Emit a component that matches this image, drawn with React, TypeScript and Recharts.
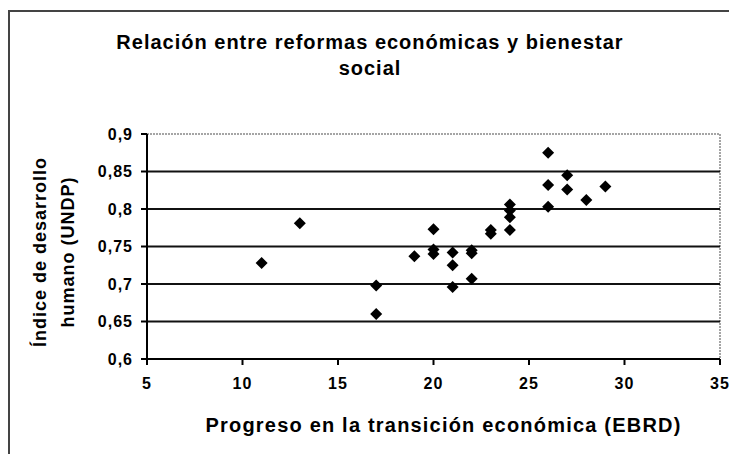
import { ScatterChart, Scatter, XAxis, YAxis, ReferenceLine, ReferenceArea } from 'recharts'

// transition progress (EBRD) vs human development index (UNDP)
const ebrdScores = [11, 13, 17, 17, 19, 20, 20, 20, 21, 21, 21, 22, 22, 22, 23, 23, 24, 24, 24, 24, 26, 26, 26, 27, 27, 28, 29]
const hdiValues = [0.728, 0.781, 0.698, 0.66, 0.737, 0.773, 0.746, 0.74, 0.742, 0.725, 0.696, 0.745, 0.741, 0.707, 0.772, 0.767, 0.806, 0.798, 0.789, 0.772, 0.875, 0.832, 0.803, 0.845, 0.826, 0.812, 0.83]

const xTicks = [5, 10, 15, 20, 25, 30, 35]
const yTicks = [0.6, 0.65, 0.7, 0.75, 0.8, 0.85, 0.9]

const title = ['Relación entre reformas económicas y bienestar', 'social']
const xTitle = 'Progreso en la transición económica (EBRD)'
const yTitle = ['Índice de desarrollo', 'humano (UNDP)']

const points = ebrdScores.map((x, i) => ({ x, y: hdiValues[i] }))
const gridValues = yTicks.slice(1, -1)

const FONT = '"Liberation Sans", Arial, sans-serif'
const tickStyle = { fontSize: 16, fontWeight: 700, fill: '#000', fontFamily: FONT, letterSpacing: 1 }

function Diamond(props: { cx?: number; cy?: number }) {
  const { cx = 0, cy = 0 } = props
  const r = 6
  return (
    <polygon
      points={`${cx},${cy - r} ${cx + r},${cy} ${cx},${cy + r} ${cx - r},${cy}`}
      fill="#000"
    />
  )
}

export default function App() {
  return (
    <div
      style={{
        position: 'relative',
        top: 2,
        width: 729,
        height: 446,
        boxSizing: 'border-box',
        border: '2px solid #444',
        background: '#fff',
        fontFamily: FONT,
        color: '#000',
      }}
    >
      <div
        style={{
          position: 'absolute', left: 0, top: 17, width: 720,
          textAlign: 'center', fontWeight: 700, fontSize: 20, letterSpacing: 1, lineHeight: '26px',
        }}
      >
        {title.map(t => <div key={t}>{t}</div>)}
      </div>

      <div
        style={{
          position: 'absolute', left: 44, top: 240, width: 280,
          transform: 'translate(-50%, -50%) rotate(-90deg)',
          textAlign: 'center', fontWeight: 700, fontSize: 18, letterSpacing: 1, lineHeight: '28px',
        }}
      >
        {yTitle.map(t => <div key={t}>{t}</div>)}
      </div>

      <div
        style={{
          position: 'absolute', left: 147, top: 401, width: 573,
          textAlign: 'center', fontWeight: 700, fontSize: 20, letterSpacing: 1.2, lineHeight: '24px',
        }}
      >
        {xTitle}
      </div>

      <ScatterChart width={725} height={442} margin={{ top: 122, right: 15, bottom: 55, left: 77 }}>
        <ReferenceArea x1={5} x2={35} y1={0.6} y2={0.9} fill="none" stroke="#888" strokeDasharray="2 1" strokeWidth={1.5} />
        {gridValues.map(v => (
          <ReferenceLine key={v} y={v} stroke="#111" strokeWidth={2} />
        ))}
        <XAxis
          type="number"
          dataKey="x"
          domain={[5, 35]}
          ticks={xTicks}
          interval={0}
          height={40}
          tick={tickStyle}
          tickSize={6}
          tickMargin={13}
          axisLine={{ stroke: '#000', strokeWidth: 2 }}
          tickLine={{ stroke: '#000', strokeWidth: 2 }}
        />
        <YAxis
          type="number"
          dataKey="y"
          domain={[0.6, 0.9]}
          ticks={yTicks}
          interval={0}
          width={60}
          tick={tickStyle}
          tickSize={6}
          tickMargin={8}
          tickFormatter={(v: number) => String(v).replace('.', ',')}
          axisLine={{ stroke: '#000', strokeWidth: 2 }}
          tickLine={{ stroke: '#000', strokeWidth: 2 }}
        />
        <Scatter data={points} shape={<Diamond />} isAnimationActive={false} />
      </ScatterChart>
    </div>
  )
}
